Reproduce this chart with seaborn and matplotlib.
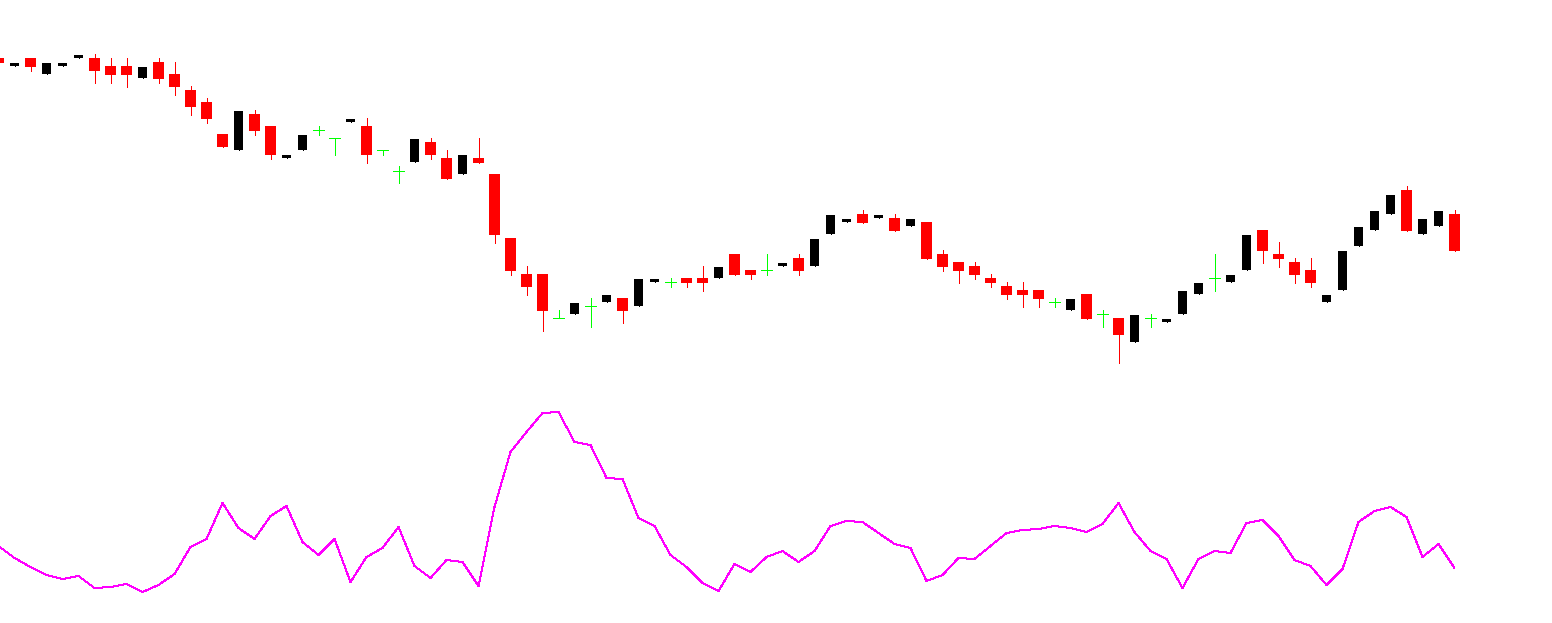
import numpy as np
import pandas as pd
import seaborn as sns
import matplotlib.pyplot as plt

# --- price bars (points) ---
opens = [942, 934, 942, 926, 934, 942, 942, 934, 934, 922, 938, 926, 910, 898, 866, 850,
         886, 874, 842, 850, 870, 862, 878, 874, 850, 829, 838, 858, 842, 826, 842, 826,
         762, 726, 726, 682, 686, 694, 698, 702, 694, 718, 718, 722, 722, 722, 746, 730,
         730, 734, 742, 734, 766, 778, 786, 782, 782, 774, 778, 746, 738, 734, 722, 714,
         710, 710, 698, 690, 706, 686, 682, 658, 682, 678, 686, 706, 722, 718, 730, 770,
         746, 738, 730, 698, 710, 754, 770, 786, 810, 766, 774, 786]
highs = [942, 937, 942, 937, 937, 945, 946, 942, 942, 933, 942, 938, 914, 902, 866, 889,
         890, 874, 845, 865, 874, 862, 881, 882, 850, 834, 861, 862, 850, 845, 862, 826,
         762, 734, 726, 690, 697, 702, 705, 702, 721, 721, 722, 722, 734, 733, 746, 730,
         746, 737, 746, 761, 785, 781, 790, 785, 786, 781, 778, 750, 738, 738, 726, 718,
         718, 710, 702, 701, 706, 690, 682, 685, 686, 681, 709, 717, 746, 725, 765, 770,
         758, 742, 742, 705, 749, 773, 789, 805, 814, 781, 789, 790]
lows = [937, 934, 929, 926, 934, 942, 917, 917, 913, 922, 917, 905, 885, 877, 853, 850,
        865, 841, 842, 850, 865, 845, 878, 837, 845, 817, 838, 841, 821, 826, 837, 757,
        725, 705, 669, 682, 686, 673, 698, 677, 694, 718, 713, 713, 709, 722, 725, 721,
        725, 734, 725, 734, 766, 778, 777, 782, 769, 774, 741, 729, 717, 721, 713, 701,
        693, 693, 693, 690, 681, 673, 637, 658, 673, 678, 686, 706, 709, 718, 730, 737,
        733, 717, 713, 698, 710, 754, 770, 786, 769, 766, 774, 749]
closes = [937, 937, 933, 937, 937, 945, 929, 925, 925, 933, 921, 913, 893, 881, 853, 889,
          869, 845, 845, 865, 870, 862, 881, 845, 850, 829, 861, 845, 821, 845, 837, 765,
          729, 713, 689, 682, 697, 694, 705, 689, 721, 721, 718, 717, 717, 733, 725, 725,
          730, 737, 729, 761, 785, 781, 777, 785, 769, 781, 741, 733, 729, 725, 717, 705,
          705, 701, 698, 701, 681, 686, 665, 685, 682, 681, 709, 717, 722, 725, 765, 749,
          741, 725, 717, 705, 749, 773, 789, 805, 769, 781, 789, 749]

# --- oscillator below ---
indicator = [54, 42, 33, 25, 21, 24, 12, 13, 16, 8, 15, 26, 53, 61, 97, 72,
             61, 84, 94, 58, 45, 61, 18, 43, 52, 73, 34, 22, 40, 38, 14, 93,
             148, 168, 187, 188, 158, 155, 122, 121, 82, 74, 45, 33, 17, 9, 36, 28,
             43, 49, 38, 49, 74, 79, 78, 67, 56, 52, 19, 25, 42, 41, 54, 67,
             70, 71, 74, 72, 68, 76, 97, 68, 49, 41, 12, 41, 49, 47, 77, 80,
             64, 40, 34, 15, 31, 78, 89, 93, 83, 43, 56, 32]

df = pd.DataFrame({'open': opens, 'high': highs, 'low': lows,
                   'close': closes, 'ind': indicator})
df['bar'] = np.arange(len(df))

up = df[df['close'] > df['open']]
down = df[df['close'] < df['open']]
doji = df[df['close'] == df['open']]

sns.set_style('white')
fig = plt.figure(figsize=(15.52, 6.23), dpi=100)
ax = fig.add_axes([0, 243 / 623, 1, 380 / 623])
ax2 = fig.add_axes([0, 0, 1, 243 / 623])

lw = 0.72  # one pixel

# wicks
ax.vlines(down['bar'], down['low'], down['high'], color='#ff0000', lw=lw,
          antialiased=False, zorder=1)
ax.vlines(up['bar'], up['low'], up['high'], color='black', lw=lw,
          antialiased=False, zorder=1)
ax.vlines(doji['bar'], doji['low'], doji['high'], color='#00ff00', lw=lw,
          antialiased=False, zorder=1)

# bodies
ax.bar(down['bar'], down['open'] - down['close'], bottom=down['close'],
       width=11 / 16, color='#ff0000', linewidth=0, antialiased=False, zorder=2)
ax.bar(up['bar'], up['close'] - up['open'], bottom=up['open'],
       width=9 / 16, color='black', linewidth=0, antialiased=False, zorder=2)
ax.hlines(doji['open'], doji['bar'] - 5.5 / 16, doji['bar'] + 5.5 / 16,
          color='#00ff00', lw=lw, antialiased=False, zorder=2)

ax.set_xlim(1.5 / 16, 1553.5 / 16)
ax.set_ylim(620, 1000)
ax.axis('off')

sns.lineplot(data=df, x='bar', y='ind', ax=ax2, color='#ff00ff', linewidth=lw)
for ln in ax2.lines:
    ln.set_antialiased(False)
ax2.set_xlim(1.5 / 16, 1553.5 / 16)
ax2.set_ylim(-23, 220)
ax2.axis('off')

fig.savefig('out.png', dpi=100, facecolor='white')
